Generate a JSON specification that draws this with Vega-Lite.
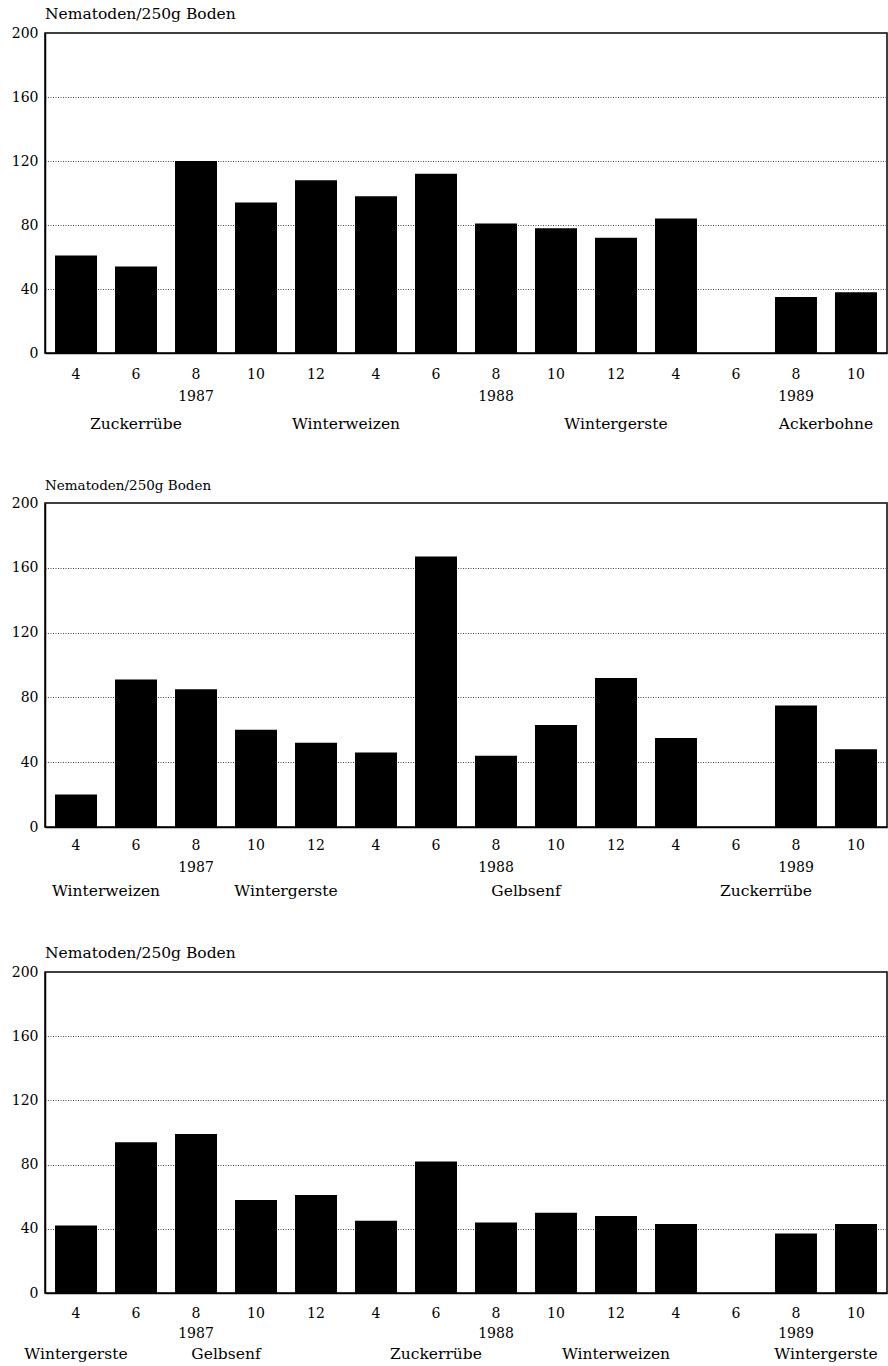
{
  "$schema": "https://vega.github.io/schema/vega-lite/v6.json",
  "background": "white",
  "padding": {"left": 10, "top": 5, "right": 0, "bottom": 0},
  "config": {
    "font": "DejaVu Serif",
    "view": {"stroke": "black", "strokeWidth": 1.5},
    "axis": {
      "labelFont": "DejaVu Serif",
      "labelColor": "black",
      "labelFontSize": 14,
      "domainColor": "black",
      "domainWidth": 1.5,
      "ticks": false,
      "title": null
    },
    "axisX": {"labelAngle": 0, "labelPadding": 14, "labelLineHeight": 22},
    "axisY": {"grid": true, "gridColor": "#444", "gridDash": [1, 1.5], "labelPadding": 7},
    "title": {"font": "DejaVu Serif", "fontWeight": "normal", "color": "black", "anchor": "start", "frame": "group", "offset": 4},
    "concat": {"spacing": 43}
  },
  "datasets": {
    "feld1": [
      {"sample": "1987-04", "n": 1, "value": 61, "crop": "Zuckerrübe", "stage": 1},
      {"sample": "1987-06", "n": 2, "value": 54, "crop": "Zuckerrübe", "stage": 1},
      {"sample": "1987-08", "n": 3, "value": 120, "crop": "Zuckerrübe", "stage": 1},
      {"sample": "1987-10", "n": 4, "value": 94, "crop": "Winterweizen", "stage": 2},
      {"sample": "1987-12", "n": 5, "value": 108, "crop": "Winterweizen", "stage": 2},
      {"sample": "1988-04", "n": 6, "value": 98, "crop": "Winterweizen", "stage": 2},
      {"sample": "1988-06", "n": 7, "value": 112, "crop": "Winterweizen", "stage": 2},
      {"sample": "1988-08", "n": 8, "value": 81, "crop": "Wintergerste", "stage": 3},
      {"sample": "1988-10", "n": 9, "value": 78, "crop": "Wintergerste", "stage": 3},
      {"sample": "1988-12", "n": 10, "value": 72, "crop": "Wintergerste", "stage": 3},
      {"sample": "1989-04", "n": 11, "value": 84, "crop": "Wintergerste", "stage": 3},
      {"sample": "1989-06", "n": 12, "value": null, "crop": "Wintergerste", "stage": 3},
      {"sample": "1989-08", "n": 13, "value": 35, "crop": "Ackerbohne", "stage": 4},
      {"sample": "1989-10", "n": 14, "value": 38, "crop": "Ackerbohne", "stage": 4}
    ],
    "feld2": [
      {"sample": "1987-04", "n": 1, "value": 20, "crop": "Winterweizen", "stage": 1},
      {"sample": "1987-06", "n": 2, "value": 91, "crop": "Winterweizen", "stage": 1},
      {"sample": "1987-08", "n": 3, "value": 85, "crop": "Wintergerste", "stage": 2},
      {"sample": "1987-10", "n": 4, "value": 60, "crop": "Wintergerste", "stage": 2},
      {"sample": "1987-12", "n": 5, "value": 52, "crop": "Wintergerste", "stage": 2},
      {"sample": "1988-04", "n": 6, "value": 46, "crop": "Wintergerste", "stage": 2},
      {"sample": "1988-06", "n": 7, "value": 167, "crop": "Gelbsenf", "stage": 3},
      {"sample": "1988-08", "n": 8, "value": 44, "crop": "Gelbsenf", "stage": 3},
      {"sample": "1988-10", "n": 9, "value": 63, "crop": "Gelbsenf", "stage": 3},
      {"sample": "1988-12", "n": 10, "value": 92, "crop": "Gelbsenf", "stage": 3},
      {"sample": "1989-04", "n": 11, "value": 55, "crop": "Zuckerrübe", "stage": 4},
      {"sample": "1989-06", "n": 12, "value": null, "crop": "Zuckerrübe", "stage": 4},
      {"sample": "1989-08", "n": 13, "value": 75, "crop": "Zuckerrübe", "stage": 4},
      {"sample": "1989-10", "n": 14, "value": 48, "crop": "Zuckerrübe", "stage": 4}
    ],
    "feld3": [
      {"sample": "1987-04", "n": 1, "value": 42, "crop": "Wintergerste", "stage": 1},
      {"sample": "1987-06", "n": 2, "value": 94, "crop": "Gelbsenf", "stage": 2},
      {"sample": "1987-08", "n": 3, "value": 99, "crop": "Gelbsenf", "stage": 2},
      {"sample": "1987-10", "n": 4, "value": 58, "crop": "Gelbsenf", "stage": 2},
      {"sample": "1987-12", "n": 5, "value": 61, "crop": "Gelbsenf", "stage": 2},
      {"sample": "1988-04", "n": 6, "value": 45, "crop": "Zuckerrübe", "stage": 3},
      {"sample": "1988-06", "n": 7, "value": 82, "crop": "Zuckerrübe", "stage": 3},
      {"sample": "1988-08", "n": 8, "value": 44, "crop": "Zuckerrübe", "stage": 3},
      {"sample": "1988-10", "n": 9, "value": 50, "crop": "Winterweizen", "stage": 4},
      {"sample": "1988-12", "n": 10, "value": 48, "crop": "Winterweizen", "stage": 4},
      {"sample": "1989-04", "n": 11, "value": 43, "crop": "Winterweizen", "stage": 4},
      {"sample": "1989-06", "n": 12, "value": null, "crop": null, "stage": null},
      {"sample": "1989-08", "n": 13, "value": 37, "crop": "Wintergerste", "stage": 5},
      {"sample": "1989-10", "n": 14, "value": 43, "crop": "Wintergerste", "stage": 5}
    ]
  },
  "vconcat": [
    {
      "spacing": 10,
      "vconcat": [
        {
          "title": {"text": "Nematoden/250g Boden", "fontSize": 15.5},
          "data": {"name": "feld1"},
          "width": 842,
          "height": 320,
          "mark": {"type": "bar", "color": "black"},
          "encoding": {
            "x": {"field": "sample", "type": "ordinal",
              "scale": {"domain": ["1987-04", "1987-06", "1987-08", "1987-10", "1987-12", "1988-04", "1988-06", "1988-08", "1988-10", "1988-12", "1989-04", "1989-06", "1989-08", "1989-10"], "paddingInner": 0.3, "paddingOuter": 0.167},
              "axis": {"labelExpr": "split(datum.value, '-')[1] == '08' ? [toString(toNumber(split(datum.value, '-')[1])), split(datum.value, '-')[0]] : toString(toNumber(split(datum.value, '-')[1]))"}},
            "y": {"field": "value", "type": "quantitative", "scale": {"domain": [0, 200], "nice": false},
              "axis": {"values": [0, 40, 80, 120, 160, 200]}}
          }
        },
        {
          "data": {"name": "feld1"},
          "width": 842,
          "height": 20,
          "view": {"stroke": null},
          "transform": [{"filter": "datum.crop != null"}],
          "mark": {"type": "text", "fontSize": 15.5, "font": "DejaVu Serif", "color": "black"},
          "encoding": {
            "x": {"aggregate": "mean", "field": "n", "type": "quantitative", "scale": {"domain": [0.4833, 14.5167], "nice": false, "zero": false}, "axis": null},
            "text": {"field": "crop"},
            "detail": {"field": "stage"}
          }
        }
      ]
    },
    {
      "spacing": 6,
      "vconcat": [
        {
          "title": {"text": "Nematoden/250g Boden", "fontSize": 13.5},
          "data": {"name": "feld2"},
          "width": 842,
          "height": 324,
          "mark": {"type": "bar", "color": "black"},
          "encoding": {
            "x": {"field": "sample", "type": "ordinal",
              "scale": {"domain": ["1987-04", "1987-06", "1987-08", "1987-10", "1987-12", "1988-04", "1988-06", "1988-08", "1988-10", "1988-12", "1989-04", "1989-06", "1989-08", "1989-10"], "paddingInner": 0.3, "paddingOuter": 0.167},
              "axis": {"labelPadding": 11, "labelExpr": "split(datum.value, '-')[1] == '08' ? [toString(toNumber(split(datum.value, '-')[1])), split(datum.value, '-')[0]] : toString(toNumber(split(datum.value, '-')[1]))"}},
            "y": {"field": "value", "type": "quantitative", "scale": {"domain": [0, 200], "nice": false},
              "axis": {"values": [0, 40, 80, 120, 160, 200]}}
          }
        },
        {
          "data": {"name": "feld2"},
          "width": 842,
          "height": 20,
          "view": {"stroke": null},
          "transform": [{"filter": "datum.crop != null"}],
          "mark": {"type": "text", "fontSize": 15.5, "font": "DejaVu Serif", "color": "black"},
          "encoding": {
            "x": {"aggregate": "mean", "field": "n", "type": "quantitative", "scale": {"domain": [0.4833, 14.5167], "nice": false, "zero": false}, "axis": null},
            "text": {"field": "crop"},
            "detail": {"field": "stage"}
          }
        }
      ]
    },
    {
      "spacing": 3,
      "vconcat": [
        {
          "title": {"text": "Nematoden/250g Boden", "fontSize": 15.5},
          "data": {"name": "feld3"},
          "width": 842,
          "height": 321,
          "mark": {"type": "bar", "color": "black"},
          "encoding": {
            "x": {"field": "sample", "type": "ordinal",
              "scale": {"domain": ["1987-04", "1987-06", "1987-08", "1987-10", "1987-12", "1988-04", "1988-06", "1988-08", "1988-10", "1988-12", "1989-04", "1989-06", "1989-08", "1989-10"], "paddingInner": 0.3, "paddingOuter": 0.167},
              "axis": {"labelPadding": 13, "labelLineHeight": 20, "labelExpr": "split(datum.value, '-')[1] == '08' ? [toString(toNumber(split(datum.value, '-')[1])), split(datum.value, '-')[0]] : toString(toNumber(split(datum.value, '-')[1]))"}},
            "y": {"field": "value", "type": "quantitative", "scale": {"domain": [0, 200], "nice": false},
              "axis": {"values": [0, 40, 80, 120, 160, 200]}}
          }
        },
        {
          "data": {"name": "feld3"},
          "width": 842,
          "height": 20,
          "view": {"stroke": null},
          "transform": [{"filter": "datum.crop != null"}],
          "mark": {"type": "text", "fontSize": 15.5, "font": "DejaVu Serif", "color": "black"},
          "encoding": {
            "x": {"aggregate": "mean", "field": "n", "type": "quantitative", "scale": {"domain": [0.4833, 14.5167], "nice": false, "zero": false}, "axis": null},
            "text": {"field": "crop"},
            "detail": {"field": "stage"}
          }
        }
      ]
    }
  ]
}
